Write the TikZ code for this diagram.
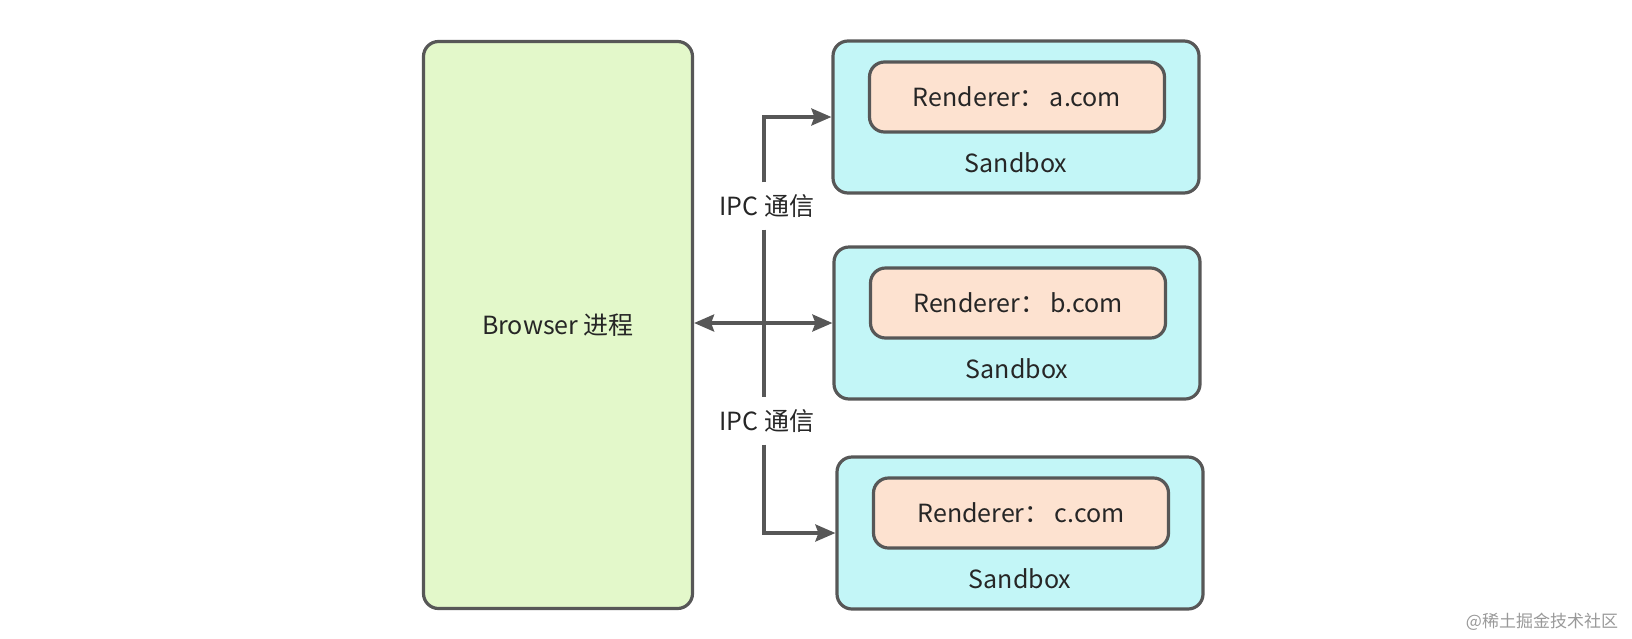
\documentclass[tikz,border=0pt]{standalone}
\usepackage{fontspec}
\setmainfont{Noto Sans CJK SC}
\usetikzlibrary{arrows.meta}
\definecolor{lineg}{HTML}{575757}
\definecolor{greenf}{HTML}{E3F8CA}
\definecolor{cyanf}{HTML}{C3F6F7}
\definecolor{peachf}{HTML}{FDE2D0}
\definecolor{txtc}{HTML}{262626}
\begin{document}
\begin{tikzpicture}[x=1pt,y=-1pt,
	box/.style={draw=lineg,line width=3.2pt,rounded corners=15pt,text=txtc,inner sep=0pt},
	browser/.style={box,fill=greenf,minimum width=269pt,minimum height=567pt},
	sandbox/.style={box,fill=cyanf,minimum width=366pt,minimum height=152pt},
	renderer/.style={box,fill=peachf,minimum width=295pt,minimum height=70pt},
	lbl/.style={text=txtc},
	ipc/.style={lbl,inner xsep=2pt,inner ysep=12pt},
	tip/.style={Stealth[length=20pt,width=17pt,inset=3pt]},
	arr/.style={draw=lineg,line width=3.4pt,-{Stealth[length=20pt,width=17pt,inset=3pt]}},
	every node/.append style={font=\fontsize{25}{29}\selectfont}]
	\useasboundingbox (0,0) rectangle (1632,638);
	\node[browser] (br) at (558,325) {Browser 进程};
	\foreach \n/\xc/\yc/\site in {a/1016/117/a.com,b/1017/323/b.com,c/1020/533/c.com}{
		\node[sandbox] (s\n) at (\xc,\yc) {};
		\node[renderer] (r\n) at (\xc+1,\yc-20) {Renderer：\hspace{5pt}\site};
		\node[lbl] (l\n) at (\xc,\yc+46) {Sandbox};
	}
	\coordinate (j) at (764,325);
	\node[ipc] (ipc1) at (767,206) {IPC 通信};
	\node[ipc] (ipc2) at (767,421) {IPC 通信};
	\draw[arr] (ipc1.north -| j) |- (sa.west);
	\draw[draw=lineg,line width=3.4pt] (ipc1.south -| j) -- (ipc2.north -| j);
	\draw[arr] (ipc2.south -| j) |- (sc.west);
	\draw[arr,{Stealth[length=20pt,width=17pt,inset=3pt]}-{Stealth[length=20pt,width=17pt,inset=3pt]}] (br.east |- sb.west) -- (sb.west);
	\node[text=black!40,font=\fontsize{17}{20}\selectfont] (wm) at (1542,622) {@稀土掘金技术社区};
\end{tikzpicture}
\end{document}
